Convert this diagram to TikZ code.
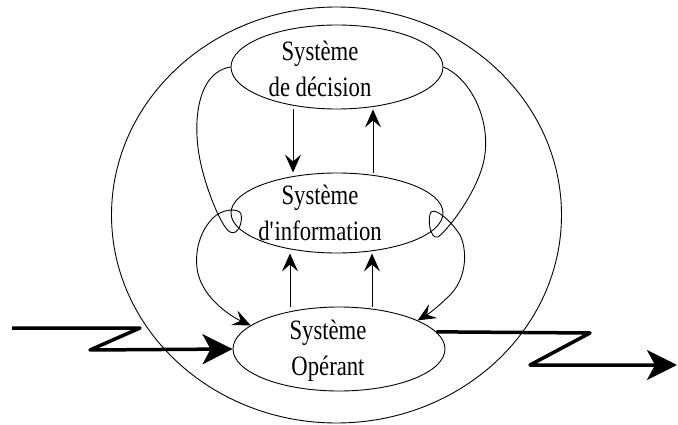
\documentclass[tikz,border=0pt]{standalone}
\usepackage{fontspec}
\setmainfont{Liberation Serif}[FakeStretch=0.81]
\usetikzlibrary{shapes.geometric,arrows.meta}

\begin{document}
\begin{tikzpicture}[x=1pt,y=-1pt,
    sys/.style={draw,ellipse,line width=0.9pt,minimum width=212pt,minimum height=84pt,inner sep=0pt},
    syslabel/.style={align=center,inner sep=0pt,font=\fontsize{28}{36}\selectfont},
    link/.style={line width=0.9pt,-{Stealth[length=18pt,width=16pt,inset=7pt]}},
    zflow/.style={line width=3.5pt,line join=round,-{Stealth[length=30pt,width=30pt,inset=8pt]}}]
        \useasboundingbox (0,0) rectangle (678,425);
        % Environment of the organisation
        \node[draw,ellipse,line width=0.9pt,minimum width=450pt,minimum height=416pt] (env) at (336.5,215) {};
        % The three subsystems
        \node[sys,label={[syslabel,xshift=-17pt,yshift=-2pt]center:{Système\\de décision}}] (dec) at (337,67) {};
        \node[sys,minimum height=80pt,label={[syslabel,xshift=-17pt]center:{Système\\d\textquotesingle information}}] (info) at (337,213) {};
        \node[sys,label={[syslabel,xshift=-11pt,yshift=-2pt]center:{Système\\Opérant}}] (op) at (339,349) {};
        % Straight links
        \draw[link] ([xshift=-44pt]dec.south) -- ([xshift=-44pt]info.north);
        \draw[link] ([xshift=36pt]info.north) -- ([xshift=36pt]dec.south);
        \draw[link] ([xshift=-49pt]op.north) -- ([xshift=-47pt]info.south);
        \draw[link] ([xshift=33pt]op.north) -- ([xshift=35pt]info.south);
        % Curved links with a loop at the information system
        \draw[link] (dec.west) .. controls (198,72) and (192,120) .. (200,160)
            .. controls (206,190) and (222,228) .. (230,232)
            .. controls (238,236) and (243,222) .. (241,214)
            .. controls (239,208) and (222,208) .. (212,219)
            .. controls (200,232) and (195,250) .. (197,268)
            .. controls (200,295) and (228,315) .. (op.165);
        \draw[link] (dec.east) .. controls (470,78) and (492,120) .. (484,160)
            .. controls (478,190) and (450,228) .. (438,237)
            .. controls (430,240) and (427,218) .. (431,212)
            .. controls (436,207) and (455,225) .. (461,237)
            .. controls (468,255) and (465,280) .. (450,295)
            .. controls (440,305) and (430,313) .. (op.20);
        % Input and output flows
        \coordinate (in) at (12,328);
        \coordinate (out) at (677,365);
        \draw[zflow] (in) -- (140,328) -- (90,350) -- (op.west);
        \draw[zflow] (op.10) -- (590,333) -- (530,365) -- (out);
\end{tikzpicture}
\end{document}
